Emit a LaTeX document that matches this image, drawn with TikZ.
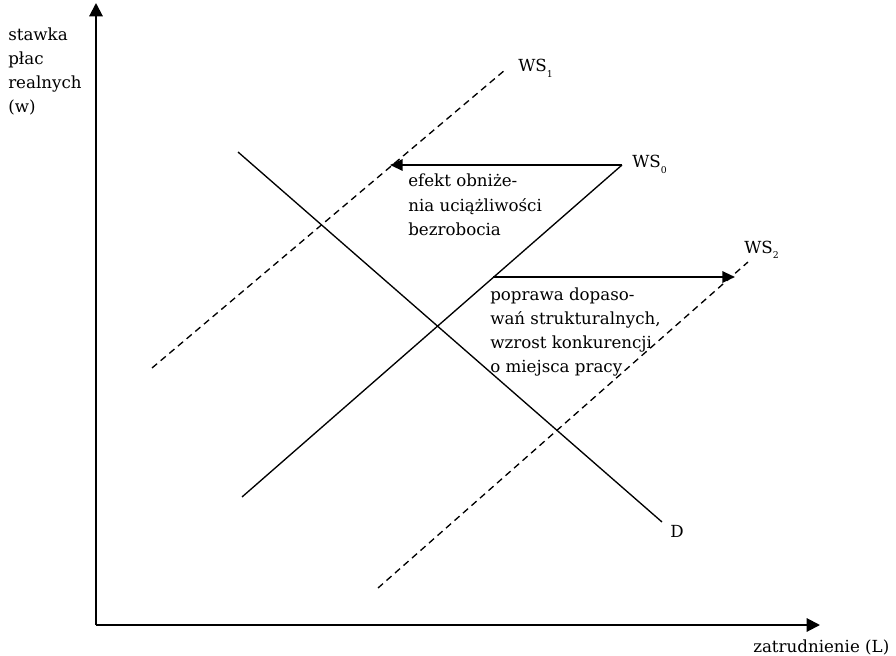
\documentclass[tikz,border=0pt]{standalone}
\usepackage{fontspec}
\setmainfont{DejaVu Serif}
\usetikzlibrary{arrows.meta}
\newcommand{\lowidx}[1]{\raisebox{-0.6ex}{\scriptsize #1}}

\begin{document}
\begin{tikzpicture}[x=0.75pt, y=-0.75pt, font=\fontsize{12.5}{18}\selectfont,
    axis/.style={line width=1.5pt, -{Triangle[length=10pt, width=10pt]}},
    shift arrow/.style={line width=1.5pt, -{Triangle[length=9.5pt, width=8.5pt]}},
    curve/.style={line width=1pt},
    shifted/.style={curve, dash pattern=on 5pt off 3.5pt},
    label/.style={inner sep=0pt, anchor=base west, align=left}]
    \useasboundingbox (0,0) rectangle (896,656);
    % Axes
    \coordinate (origin) at (96,625);
    \coordinate (ytip) at (96,3);
    \coordinate (xtip) at (820,625);
    \draw[axis] (origin) -- (ytip);
    \draw[axis] (origin) -- (xtip);
    % base anchor = last line
    \node[label] (ylab) at (8,113) {stawka\\płac\\realnych\\(w)};
    \node[label] (xlab) at (753,652) {zatrudnienie (L)};

    % Curves
    \coordinate (d1) at (238,152);
    \coordinate (d2) at (662,522);
    \coordinate (ws0a) at (242,497);
    \coordinate (ws0b) at (622,165);
    \coordinate (ws1a) at (152,368);
    \coordinate (ws1b) at (505,70);
    \coordinate (ws2a) at (378,588);
    \coordinate (ws2b) at (748,262);
    \draw[curve] (d1) -- (d2);
    \draw[curve] (ws0a) -- (ws0b);
    \draw[shifted] (ws1a) -- (ws1b);
    \draw[shifted] (ws2a) -- (ws2b);
    \node[label] (dlab) at (670,537) {D};
    \node[label] (ws0) at (632,168) {WS\lowidx{0}};
    \node[label] (ws1) at (518,72) {WS\lowidx{1}};
    \node[label] (ws2) at (744,253) {WS\lowidx{2}};

    % Arrows
    \coordinate (left end) at (390,165);
    \coordinate (mid start) at (493,277);
    \coordinate (right end) at (735,277);
    \draw[shift arrow] (ws0b) -- (left end);
    \draw[shift arrow] (mid start) -- (right end);
    \node[label] (efekt) at (408,235) {efekt obniże-\\nia uciążliwości\\bezrobocia};
    \node[label] (poprawa) at (490,372) {poprawa dopaso-\\wań strukturalnych,\\wzrost konkurencji\\o miejsca pracy};
\end{tikzpicture}
\end{document}
